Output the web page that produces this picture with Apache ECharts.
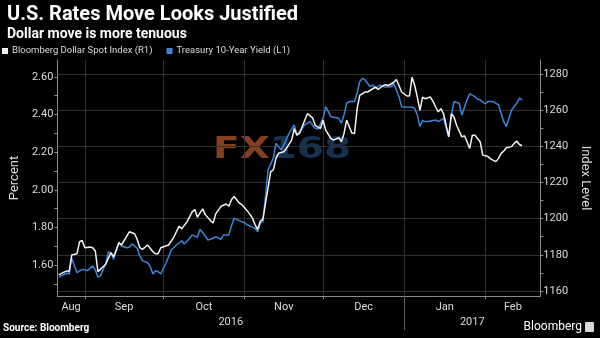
<!DOCTYPE html>
<html><head><meta charset="utf-8">
<script src="https://cdn.jsdelivr.net/npm/echarts@6/dist/echarts.min.js"></script>
<style>html,body{margin:0;padding:0;background:#000;}#c{width:600px;height:338px;}</style>
</head><body><div id="c"></div>
<script>
// Bloomberg Dollar Spot Index (right axis)
const usdDates = ['2016-08-22','2016-08-25','2016-08-26','2016-08-27','2016-08-29','2016-08-30','2016-08-31','2016-09-01','2016-09-03','2016-09-04','2016-09-05','2016-09-06','2016-09-09','2016-09-11','2016-09-12','2016-09-14','2016-09-15','2016-09-18','2016-09-20','2016-09-21','2016-09-22','2016-09-23','2016-09-25','2016-09-27','2016-09-28','2016-09-29','2016-09-30','2016-10-03','2016-10-05','2016-10-07','2016-10-08','2016-10-10','2016-10-12','2016-10-13','2016-10-14','2016-10-16','2016-10-17','2016-10-19','2016-10-20','2016-10-21','2016-10-23','2016-10-25','2016-10-26','2016-10-27','2016-10-28','2016-10-30','2016-10-31','2016-11-02','2016-11-04','2016-11-05','2016-11-06','2016-11-07','2016-11-08','2016-11-11','2016-11-12','2016-11-13','2016-11-14','2016-11-16','2016-11-17','2016-11-19','2016-11-20','2016-11-21','2016-11-22','2016-11-24','2016-11-25','2016-11-27','2016-11-28','2016-11-30','2016-12-01','2016-12-02','2016-12-04','2016-12-05','2016-12-07','2016-12-08','2016-12-09','2016-12-10','2016-12-12','2016-12-13','2016-12-14','2016-12-15','2016-12-17','2016-12-18','2016-12-20','2016-12-21','2016-12-22','2016-12-24','2016-12-25','2016-12-26','2016-12-28','2016-12-29','2016-12-30','2016-12-31','2017-01-02','2017-01-03','2017-01-04','2017-01-05','2017-01-06','2017-01-07','2017-01-08','2017-01-09','2017-01-11','2017-01-12','2017-01-13','2017-01-14','2017-01-15','2017-01-16','2017-01-18','2017-01-19','2017-01-20','2017-01-21','2017-01-23','2017-01-24','2017-01-25','2017-01-26','2017-01-27','2017-01-28','2017-01-30','2017-01-31','2017-02-02','2017-02-03','2017-02-05','2017-02-06','2017-02-07','2017-02-08','2017-02-09','2017-02-11','2017-02-12','2017-02-13','2017-02-14','2017-02-15'];
const usdValues = [1168.9,1171.1,1170.7,1179.9,1180.6,1187.2,1187.9,1183.9,1184.3,1183.9,1182.1,1170.7,1174.8,1181.2,1178.8,1186.7,1185.4,1192.7,1191.6,1188.5,1183.9,1183.0,1185.4,1181.7,1180.6,1180.6,1183.9,1185.4,1189.8,1195.8,1194.4,1198.2,1203.7,1205.0,1200.8,1205.4,1202.2,1198.9,1197.6,1202.6,1206.8,1208.1,1206.8,1210.4,1212.3,1208.6,1207.7,1204.4,1200.4,1196.7,1194.0,1198.6,1199.5,1226.0,1226.9,1233.3,1236.1,1237.0,1238.8,1243.4,1249.8,1246.1,1247.1,1254.4,1258.0,1255.7,1251.6,1249.8,1254.4,1248.9,1244.3,1243.4,1244.7,1242.5,1247.1,1254.4,1247.3,1247.0,1260.8,1268.1,1270.0,1270.0,1271.8,1272.7,1271.4,1273.6,1274.0,1273.6,1275.4,1276.9,1273.6,1270.0,1267.8,1267.8,1278.2,1273.6,1267.2,1259.9,1267.2,1266.3,1267.2,1264.8,1261.7,1259.0,1260.8,1258.0,1245.2,1258.0,1256.2,1251.6,1245.2,1245.8,1242.5,1238.8,1246.1,1246.1,1242.5,1235.1,1234.3,1233.0,1231.5,1233.3,1236.1,1237.3,1239.2,1239.8,1241.6,1242.8,1241.0,1240.3];

// Treasury 10-Year Yield (left axis)
const yieldDates = ['2016-08-22','2016-08-25','2016-08-26','2016-08-27','2016-08-29','2016-08-30','2016-08-31','2016-09-02','2016-09-04','2016-09-05','2016-09-06','2016-09-07','2016-09-09','2016-09-10','2016-09-11','2016-09-12','2016-09-14','2016-09-15','2016-09-17','2016-09-18','2016-09-19','2016-09-21','2016-09-22','2016-09-23','2016-09-25','2016-09-26','2016-09-27','2016-09-28','2016-09-29','2016-09-30','2016-10-02','2016-10-04','2016-10-06','2016-10-08','2016-10-09','2016-10-11','2016-10-12','2016-10-14','2016-10-15','2016-10-17','2016-10-18','2016-10-20','2016-10-21','2016-10-23','2016-10-24','2016-10-26','2016-10-27','2016-10-28','2016-10-30','2016-11-01','2016-11-02','2016-11-04','2016-11-05','2016-11-06','2016-11-07','2016-11-08','2016-11-10','2016-11-12','2016-11-13','2016-11-15','2016-11-16','2016-11-18','2016-11-20','2016-11-21','2016-11-22','2016-11-24','2016-11-26','2016-11-28','2016-11-29','2016-12-01','2016-12-02','2016-12-04','2016-12-05','2016-12-07','2016-12-08','2016-12-09','2016-12-10','2016-12-11','2016-12-12','2016-12-13','2016-12-14','2016-12-15','2016-12-16','2016-12-17','2016-12-19','2016-12-20','2016-12-21','2016-12-23','2016-12-24','2016-12-25','2016-12-27','2016-12-28','2016-12-29','2016-12-30','2016-12-31','2017-01-02','2017-01-04','2017-01-05','2017-01-06','2017-01-07','2017-01-08','2017-01-09','2017-01-11','2017-01-13','2017-01-14','2017-01-16','2017-01-18','2017-01-19','2017-01-20','2017-01-22','2017-01-23','2017-01-25','2017-01-26','2017-01-28','2017-01-29','2017-01-30','2017-02-01','2017-02-02','2017-02-04','2017-02-06','2017-02-07','2017-02-08','2017-02-09','2017-02-10','2017-02-11','2017-02-13','2017-02-14','2017-02-15'];
const yieldValues = [1.535,1.556,1.552,1.636,1.559,1.568,1.577,1.570,1.595,1.573,1.535,1.542,1.609,1.671,1.662,1.630,1.719,1.701,1.692,1.694,1.712,1.689,1.648,1.623,1.612,1.591,1.552,1.570,1.564,1.552,1.609,1.680,1.706,1.729,1.712,1.742,1.760,1.747,1.790,1.754,1.733,1.742,1.751,1.737,1.760,1.760,1.807,1.848,1.836,1.825,1.813,1.801,1.795,1.777,1.822,1.830,2.105,2.168,2.247,2.212,2.238,2.300,2.345,2.291,2.309,2.345,2.362,2.327,2.323,2.380,2.442,2.389,2.386,2.380,2.354,2.398,2.460,2.469,2.469,2.469,2.513,2.575,2.593,2.584,2.548,2.557,2.540,2.557,2.548,2.547,2.548,2.563,2.531,2.495,2.442,2.440,2.439,2.433,2.398,2.336,2.368,2.362,2.366,2.371,2.362,2.380,2.282,2.395,2.469,2.460,2.398,2.478,2.510,2.495,2.481,2.478,2.456,2.469,2.469,2.451,2.407,2.362,2.336,2.380,2.424,2.460,2.487,2.478];

// Axis ticks and labels
const xStart = '2016-08-21 12:00';
const xEnd = '2017-02-22 00:00';
const monthStarts = ['2016-09-01','2016-10-01','2016-11-01','2016-12-01','2017-01-01','2017-02-01'];
const monthLabels = ['Aug','Sep','Oct','Nov','Dec','Jan','Feb'];
const yearStarts = ['2017-01-01'];
const yearLabels = ['2016','2017'];
const leftMin = 1.435, leftMax = 2.69;
const leftLabels = [1.6, 1.8, 2.0, 2.2, 2.4, 2.6];
const leftTicks = [1.5, 1.6, 1.7, 1.8, 1.9, 2.0, 2.1, 2.2, 2.3, 2.4, 2.5, 2.6];
const rightMin = 1157.2, rightMax = 1287.7;
const rightLabels = [1160, 1180, 1200, 1220, 1240, 1260, 1280];
const rightTicks = [1160, 1170, 1180, 1190, 1200, 1210, 1220, 1230, 1240, 1250, 1260, 1270, 1280];

function ts(s) {
  const [d, t] = s.split(' ');
  const [y, m, day] = d.split('-').map(Number);
  let h = 0, mi = 0;
  if (t) { [h, mi] = t.split(':').map(Number); }
  return Date.UTC(y, m - 1, day, h, mi);
}
const xMinTs = ts(xStart), xMaxTs = ts(xEnd);
const monthTs = monthStarts.map(ts);
const bounds = [xMinTs].concat(monthTs, [xMaxTs]);
const monthLabelPos = [];
for (let i = 0; i < bounds.length - 1; i++) monthLabelPos.push(Math.round((bounds[i] + bounds[i + 1]) / 2));
const yearTs = yearStarts.map(ts);
const yBounds = [xMinTs].concat(yearTs, [xMaxTs]);
const yearLabelPos = [];
for (let i = 0; i < yBounds.length - 1; i++) yearLabelPos.push(Math.round((yBounds[i] + yBounds[i + 1]) / 2));
function nearestIdx(arr, v) {
  let bi = 0, bd = Infinity;
  arr.forEach((a, i) => { const d = Math.abs(a - v); if (d < bd) { bd = d; bi = i; } });
  return bi;
}

const usdData = usdDates.map((d, i) => [ts(d), usdValues[i]]);
const yieldData = yieldDates.map((d, i) => [ts(d), yieldValues[i]]);

const axisGray = '#8c8c8c';
const gridGray = '#303030';
const textCol = '#dcdcdc';
const FONT = 'Roboto, "Open Sans", sans-serif';

const chart = echarts.init(document.getElementById('c'), null, {renderer: 'canvas'});
chart.setOption({
  backgroundColor: '#000',
  animation: false,
  textStyle: {fontFamily: FONT},
  title: [
    {text: 'U.S. Rates Move Looks Justified', subtext: 'Dollar move is more tenuous', left: 2, top: 0, itemGap: 2,
     textStyle: {color: '#fff', fontSize: 20, fontWeight: 'bold', fontFamily: FONT},
     subtextStyle: {color: '#fff', fontSize: 14, fontWeight: 'bold', fontFamily: FONT}},
    {text: 'Source: Bloomberg', left: 3, top: 323, padding: 0,
     textStyle: {color: '#fff', fontSize: 10, fontWeight: 'bold', fontFamily: FONT}},
    {text: 'Bloomberg', right: 18, top: 321, padding: 0,
     textStyle: {color: '#fff', fontSize: 12, fontWeight: 'normal', fontFamily: FONT}}
  ],
  legend: {
    left: 2, top: 46, padding: 0, itemWidth: 6, itemHeight: 6, itemGap: 14, icon: 'rect',
    textStyle: {color: textCol, fontSize: 9.5, fontFamily: FONT, padding: [0, 0, 0, -1]},
    data: [
      {name: 'Bloomberg Dollar Spot Index (R1)', itemStyle: {color: '#f2f2f2'}},
      {name: 'Treasury 10-Year Yield (L1)', itemStyle: {color: '#3d85d8'}}
    ]
  },
  graphic: [
    {type: 'text', left: 213, top: 135, z: 0, scaleX: 1.3,
     style: {text: '{a|FX}{b|168}', rich: {
       a: {fontSize: 30, fontWeight: 'bold', fontFamily: 'DejaVu Sans', fill: 'rgba(190,90,45,0.7)'},
       b: {fontSize: 30, fontWeight: 'bold', fontFamily: 'DejaVu Sans', fill: 'rgba(40,100,160,0.5)'}}}},
    {type: 'rect', right: 6, top: 322, z: 5, shape: {width: 9, height: 10, r: 1}, style: {fill: '#d8d8d8'}}
  ],
  grid: {left: 43, right: 46, top: 60, bottom: 42},
  xAxis: [
    {type: 'value', min: xMinTs, max: xMaxTs, position: 'bottom',
     axisLine: {show: true, lineStyle: {color: axisGray, width: 1}},
     axisTick: {show: true, customValues: monthTs, length: 3, lineStyle: {color: axisGray}},
     axisLabel: {customValues: monthLabelPos, color: textCol, fontSize: 11, margin: 6, fontFamily: FONT,
                 formatter: v => monthLabels[nearestIdx(monthLabelPos, v)]},
     splitLine: {show: true, lineStyle: {color: gridGray, width: 1}}},
    {type: 'value', min: xMinTs, max: xMaxTs, position: 'bottom', offset: 0,
     axisLine: {show: false},
     axisTick: {show: true, customValues: yearTs, length: 34, lineStyle: {color: '#5a5a5a'}},
     axisLabel: {customValues: yearLabelPos, color: textCol, fontSize: 11, margin: 21, fontFamily: FONT,
                 formatter: v => yearLabels[nearestIdx(yearLabelPos, v)]},
     splitLine: {show: false}}
  ],
  yAxis: [
    {type: 'value', min: leftMin, max: leftMax, position: 'left',
     name: 'Percent', nameLocation: 'middle', nameGap: 33,
     nameTextStyle: {color: textCol, fontSize: 13, fontFamily: FONT},
     axisLine: {show: true, lineStyle: {color: axisGray}},
     axisTick: {show: true, customValues: leftTicks, length: 3, lineStyle: {color: axisGray}},
     axisLabel: {customValues: leftLabels, formatter: v => v.toFixed(2), color: textCol, fontSize: 11, margin: 4, fontFamily: FONT},
     splitLine: {show: false}},
    {type: 'value', min: rightMin, max: rightMax, position: 'right',
     name: 'Index Level', nameLocation: 'middle', nameGap: 37, nameRotate: -90,
     nameTextStyle: {color: textCol, fontSize: 13, fontFamily: FONT},
     axisLine: {show: true, lineStyle: {color: axisGray}},
     axisTick: {show: true, customValues: rightTicks, length: 3, lineStyle: {color: axisGray}},
     axisLabel: {customValues: rightLabels, formatter: v => String(v), color: textCol, fontSize: 11, margin: 3, fontFamily: FONT},
     splitLine: {show: false}},
    {type: 'value', min: rightMin, max: rightMax, position: 'right',
     axisLine: {show: false}, axisLabel: {show: false},
     axisTick: {show: false, customValues: rightLabels},
     splitLine: {show: true, lineStyle: {color: gridGray, width: 1}}}
  ],
  series: [
    {name: 'Treasury 10-Year Yield (L1)', type: 'line', xAxisIndex: 0, yAxisIndex: 0, data: yieldData,
     showSymbol: false, symbol: 'none', color: '#3d85d8', lineStyle: {color: '#3d85d8', width: 1.5}, z: 2},
    {name: 'Bloomberg Dollar Spot Index (R1)', type: 'line', xAxisIndex: 0, yAxisIndex: 1, data: usdData,
     showSymbol: false, symbol: 'none', color: '#f2f2f2', lineStyle: {color: '#f2f2f2', width: 1.5}, z: 3}
  ]
});
</script></body></html>
